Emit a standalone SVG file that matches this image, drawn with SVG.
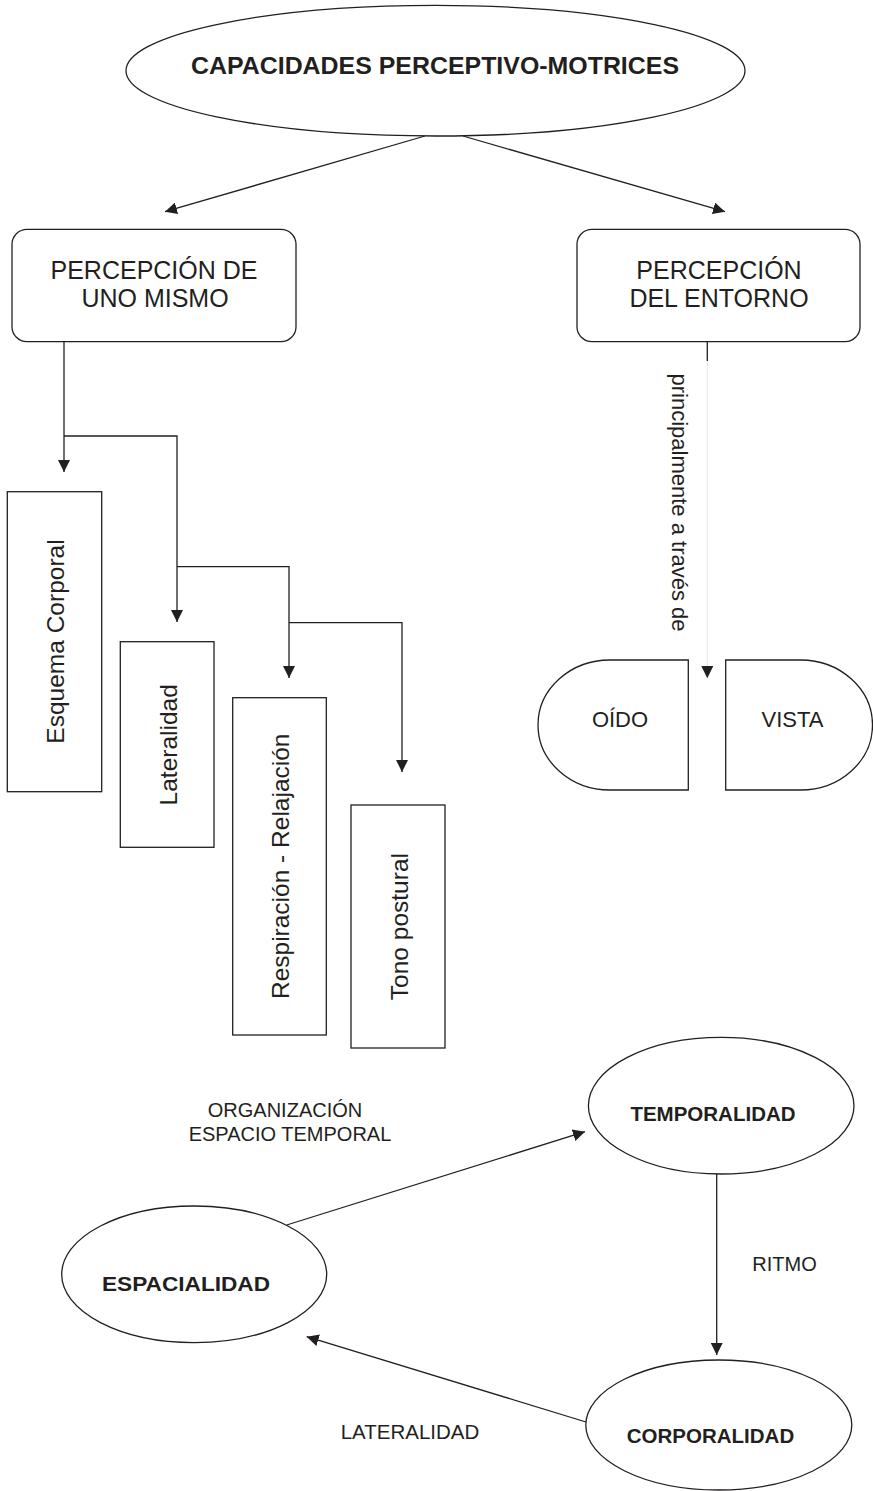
<svg xmlns="http://www.w3.org/2000/svg" width="873" height="1491" viewBox="0 0 873 1491">
<style>
.s{fill:#fff;stroke:#231f20;stroke-width:1.3}
.c{fill:none;stroke:#231f20;stroke-width:1.3}
.t{font-family:"Liberation Sans",Arial,sans-serif;fill:#231f20}
.b{font-weight:bold}
.m{text-anchor:middle}
</style>
<defs>
<marker id="ah" markerUnits="userSpaceOnUse" markerWidth="12" markerHeight="12" refX="12" refY="6" orient="auto">
<path d="M0,0 L12,6 L0,12 Z" fill="#231f20"/>
</marker>
</defs>
<rect width="873" height="1491" fill="#fff"/>
<g id="connectors">
<line class="c" x1="425" y1="136" x2="165" y2="211.7" marker-end="url(#ah)"/>
<line class="c" x1="463" y1="136" x2="725" y2="211.7" marker-end="url(#ah)"/>
<line class="c" x1="64" y1="342" x2="64" y2="472" marker-end="url(#ah)"/>
<polyline class="c" points="64,436 177,436 177,622" marker-end="url(#ah)"/>
<polyline class="c" points="177,566.7 289,566.7 289,678" marker-end="url(#ah)"/>
<polyline class="c" points="289,622.7 402,622.7 402,772" marker-end="url(#ah)"/>
<line class="c" x1="707.3" y1="342" x2="707.3" y2="361"/>
<line x1="707.3" y1="361" x2="707.3" y2="668" stroke="#e6e6e6" stroke-width="1"/>
<path d="M701.3,666 L713.3,666 L707.3,678.3 Z" fill="#231f20"/>
<line class="c" x1="286.7" y1="1225" x2="585" y2="1131.7" marker-end="url(#ah)"/>
<line class="c" x1="716.7" y1="1169" x2="716.7" y2="1355" marker-end="url(#ah)"/>
<line class="c" x1="586" y1="1422" x2="306.7" y2="1336.7" marker-end="url(#ah)"/>
</g>
<g id="n-capacidades">
<ellipse class="s" cx="435.5" cy="70.7" rx="309.5" ry="65.3"/>
<text class="t b m" x="435" y="74" font-size="24.5" textLength="488" lengthAdjust="spacingAndGlyphs">CAPACIDADES PERCEPTIVO-MOTRICES</text>
</g>
<g id="n-uno-mismo">
<rect class="s" x="12" y="229.3" width="284" height="112.4" rx="15" ry="15"/>
<text class="t m" x="154" y="279.3" font-size="25">PERCEPCIÓN DE</text>
<text class="t m" x="155" y="307.3" font-size="25">UNO MISMO</text>
</g>
<g id="n-entorno">
<rect class="s" x="577" y="229.3" width="283" height="112.4" rx="15" ry="15"/>
<text class="t m" x="719" y="279.3" font-size="25">PERCEPCIÓN</text>
<text class="t m" x="719" y="307.3" font-size="25">DEL ENTORNO</text>
</g>
<g id="n-esquema">
<rect class="s" x="7.3" y="491.7" width="94.4" height="300"/>
<text class="t m" transform="translate(64,641.5) rotate(-90)" font-size="24.5">Esquema Corporal</text>
</g>
<g id="n-lateralidad">
<rect class="s" x="120.3" y="641.7" width="93.7" height="205.6"/>
<text class="t m" transform="translate(176.7,744.8) rotate(-90)" font-size="24.5">Lateralidad</text>
</g>
<g id="n-respiracion">
<rect class="s" x="232.7" y="697.7" width="93.6" height="337.3"/>
<text class="t m" transform="translate(289,866.3) rotate(-90)" font-size="24.5">Respiración - Relajación</text>
</g>
<g id="n-tono">
<rect class="s" x="351" y="805" width="94" height="243"/>
<text class="t m" transform="translate(408,926.6) rotate(-90)" font-size="24.5">Tono postural</text>
</g>
<g id="l-principalmente">
<text class="t m" transform="translate(672,502.5) rotate(90)" font-size="22">principalmente a través de</text>
</g>
<g id="n-oido">
<path class="s" d="M688.3,660 H610 A72,65 0 0 0 610,790 H688.3 Z"/>
<text class="t m" x="620" y="726.7" font-size="22">OÍDO</text>
</g>
<g id="n-vista">
<path class="s" d="M725.7,660 H800.5 A72,65 0 0 1 800.5,790 H725.7 Z"/>
<text class="t m" x="792.5" y="726.7" font-size="22">VISTA</text>
</g>
<g id="l-organizacion">
<text class="t m" x="285" y="1116.7" font-size="20">ORGANIZACIÓN</text>
<text class="t m" x="290" y="1140.7" font-size="20">ESPACIO TEMPORAL</text>
</g>
<g id="n-temporalidad">
<ellipse class="s" cx="721.2" cy="1105.7" rx="132.8" ry="68.3"/>
<text class="t b m" x="713" y="1120.7" font-size="20.5">TEMPORALIDAD</text>
</g>
<g id="n-espacialidad">
<ellipse class="s" cx="194.2" cy="1274.3" rx="132.5" ry="68.3"/>
<text class="t b m" x="186" y="1290.7" font-size="21" textLength="168" lengthAdjust="spacingAndGlyphs">ESPACIALIDAD</text>
</g>
<g id="n-corporalidad">
<ellipse class="s" cx="718.8" cy="1425" rx="133" ry="65"/>
<text class="t b m" x="710.5" y="1442.7" font-size="20.5">CORPORALIDAD</text>
</g>
<g id="l-ritmo">
<text class="t m" x="784.5" y="1270.7" font-size="20">RITMO</text>
</g>
<g id="l-lateralidad">
<text class="t m" x="410" y="1439.3" font-size="20.5">LATERALIDAD</text>
</g>
</svg>
